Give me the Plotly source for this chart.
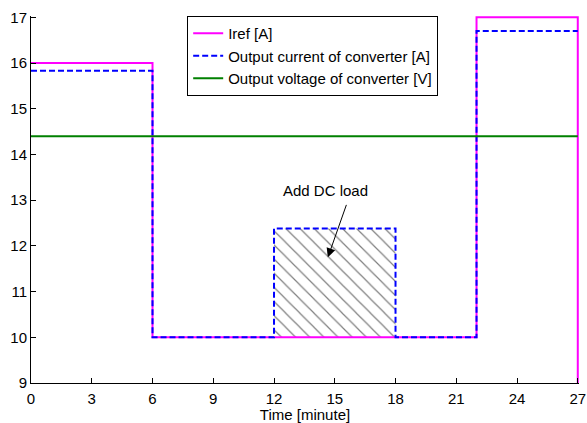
import plotly.graph_objects as go

# Data
iref_t = [0, 6, 6, 22, 22, 27, 27]
iref_v = [16, 16, 10, 10, 17, 17, 9]

iout_t = [0, 6, 6, 12, 12, 18, 18, 22, 22, 27]
iout_v = [15.83, 15.83, 10, 10, 12.38, 12.38, 10, 10, 16.7, 16.7]

vout_t = [0, 27]
vout_v = [14.4, 14.4]

load_t = [12, 18, 18, 12, 12]
load_v = [10, 10, 12.38, 12.38, 10]

x_ticks = [0, 3, 6, 9, 12, 15, 18, 21, 24, 27]
y_ticks = [9, 10, 11, 12, 13, 14, 15, 16, 17]

FONT = "Liberation Sans, Arial, sans-serif"

fig = go.Figure()

fig.add_trace(go.Scatter(
    x=load_t, y=load_v, mode="lines", fill="toself",
    line=dict(width=0, color="rgba(0,0,0,0)"),
    fillcolor="rgba(0,0,0,0)",
    fillpattern=dict(shape="\\", fgcolor="black", bgcolor="white", size=10, solidity=0.12),
    showlegend=False, hoverinfo="skip",
))

fig.add_trace(go.Scatter(
    x=iref_t, y=iref_v, mode="lines", name="Iref [A]",
    line=dict(color="#FF00FF", width=2),
))
fig.add_trace(go.Scatter(
    x=iout_t, y=iout_v, mode="lines", name="Output current of converter [A]",
    line=dict(color="#0000FF", width=2, dash="6px,3px"),
))
fig.add_trace(go.Scatter(
    x=vout_t, y=vout_v, mode="lines", name="Output voltage of converter [V]",
    line=dict(color="#008000", width=2),
))

fig.add_annotation(
    x=14.56, y=13.22, text="Add DC load", showarrow=False,
    font=dict(family=FONT, size=15, color="black"),
)
fig.add_annotation(
    x=14.66, y=11.75, ax=15.6, ay=12.93, axref="x", ayref="y",
    text="", showarrow=True, arrowhead=2, arrowsize=1.8, arrowwidth=1,
    arrowcolor="black",
)

fig.update_layout(
    width=587, height=423,
    margin=dict(l=31, r=8, t=16, b=40, autoexpand=False),
    paper_bgcolor="white", plot_bgcolor="white",
    font=dict(family=FONT, size=15, color="black"),
    showlegend=True,
    legend=dict(
        x=0.285, y=1.0, xanchor="left", yanchor="top",
        bgcolor="white", bordercolor="black", borderwidth=1,
        font=dict(family=FONT, size=15, color="black"),
        tracegroupgap=0, itemwidth=30,
    ),
    xaxis=dict(
        range=[0, 27.06], tickvals=x_ticks, ticktext=[str(v) for v in x_ticks],
        showgrid=False, zeroline=False, showline=True, linecolor="black", linewidth=1,
        ticks="inside", ticklen=5, tickcolor="black", mirror=False,
        ticklabelstandoff=2, automargin=False,
        title=dict(text="Time [minute]", font=dict(family=FONT, size=15), standoff=0),
        tickfont=dict(family=FONT, size=15),
    ),
    yaxis=dict(
        range=[9, 17.03], tickvals=y_ticks, ticktext=[str(v) for v in y_ticks],
        showgrid=False, zeroline=False, showline=True, linecolor="black", linewidth=1,
        ticks="inside", ticklen=5, tickcolor="black", mirror=False,
        automargin=False,
        tickfont=dict(family=FONT, size=15),
    ),
)

fig.write_html("out.html")
